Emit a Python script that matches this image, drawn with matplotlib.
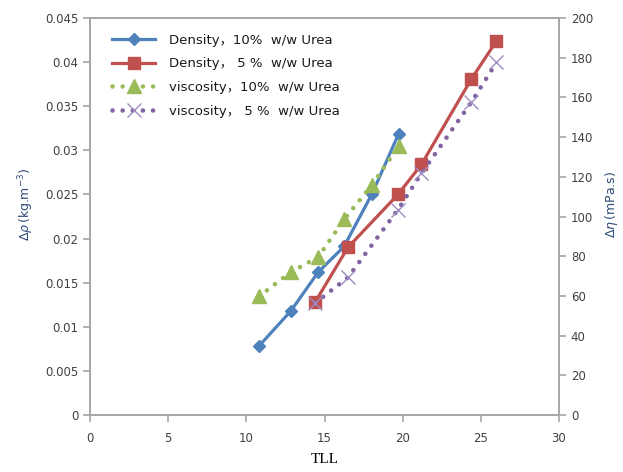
import matplotlib
matplotlib.use("Agg")
import matplotlib.pyplot as plt
from matplotlib.ticker import FuncFormatter, MultipleLocator

# Data
tll_10 = [10.8, 12.85, 14.6, 16.25, 18.05, 19.75]
tll_5 = [14.4, 16.5, 19.7, 21.2, 24.4, 26.0]
density_10 = [0.0078, 0.0118, 0.0162, 0.0191, 0.0251, 0.0319]
density_5 = [0.0128, 0.0190, 0.0250, 0.0284, 0.0381, 0.0424]
visc_10 = [59.7, 72.0, 79.6, 98.5, 116.0, 135.5]
visc_5 = [56.4, 69.3, 103.5, 121.7, 157.7, 177.6]

labels = ["Density\uff0c10%  w/w Urea", "Density\uff0c 5 %  w/w Urea",
          "viscosity\uff0c10%  w/w Urea", "viscosity\uff0c 5 %  w/w Urea"]

blue, red, green, purple = "#4F81BD", "#C0504D", "#9BBB59", "#8064A2"
spine_c = "#A6A6A6"
tick_c = "#404040"

plt.rcParams['font.family'] = ['DejaVu Sans', 'Noto Sans CJK SC']

W, H = 623, 472
fig = plt.figure(figsize=(W / 100, H / 100), dpi=100)
ax = fig.add_axes([90 / W, (H - 415) / H, (559 - 90) / W, (415 - 18) / H])
ax2 = ax.twinx()

l1, = ax.plot(tll_10, density_10, color=blue, lw=2.3, marker='D', ms=6.5, zorder=3)
l2, = ax.plot(tll_5, density_5, color=red, lw=2.3, marker='s', ms=8.5, zorder=3)
l3, = ax2.plot(tll_10, visc_10, color=green, lw=3.3, linestyle=(0, (0.01, 2.2)),
               dash_capstyle='round', marker='^', ms=10, zorder=2)
l4, = ax2.plot(tll_5, visc_5, color=purple, lw=3.3, linestyle=(0, (0.01, 2.2)),
               dash_capstyle='round', marker='x', ms=10, mew=1.0,
               mec="#A08CC0", zorder=2)

ax.set_xlim(0, 30)
ax.set_ylim(0, 0.045)
ax2.set_ylim(0, 200)
ax.xaxis.set_major_locator(MultipleLocator(5))
ax.yaxis.set_major_locator(MultipleLocator(0.005))
ax2.yaxis.set_major_locator(MultipleLocator(20))
ax.yaxis.set_major_formatter(FuncFormatter(lambda v, p: f"{v:.3f}".rstrip('0').rstrip('.') if v else "0"))

for a in (ax, ax2):
    for s in a.spines.values():
        s.set_color(spine_c)
        s.set_linewidth(1.2)
    a.tick_params(colors=spine_c, labelcolor=tick_c, labelsize=8.5, length=5,
                  width=1.2, direction='out')
ax.tick_params(axis='x', pad=7)

ax.set_xlabel("TLL", family=['Liberation Serif'], fontsize=11, color='black', labelpad=6)
ax.set_ylabel(r"$\Delta\rho\,$(kg.m$^{-3}$)", fontsize=9, color="#2F4A78")
ax2.set_ylabel(r"$\Delta\eta\,$(mPa.s)", fontsize=9, color="#2F4A78")
ax.yaxis.set_label_coords(-0.115, 0.53)
ax2.yaxis.set_label_coords(1.094, 0.53)

leg = ax.legend([l1, l2, l3, l4], labels, loc='upper left',
                bbox_to_anchor=(100 / W, (H - 22) / H), bbox_transform=fig.transFigure,
                frameon=False, fontsize=9.5, handlelength=3.3, labelspacing=0.8,
                handletextpad=1.0)
for t in leg.get_texts():
    t.set_color('#1a1a1a')

fig.savefig("out.png", dpi=100)
